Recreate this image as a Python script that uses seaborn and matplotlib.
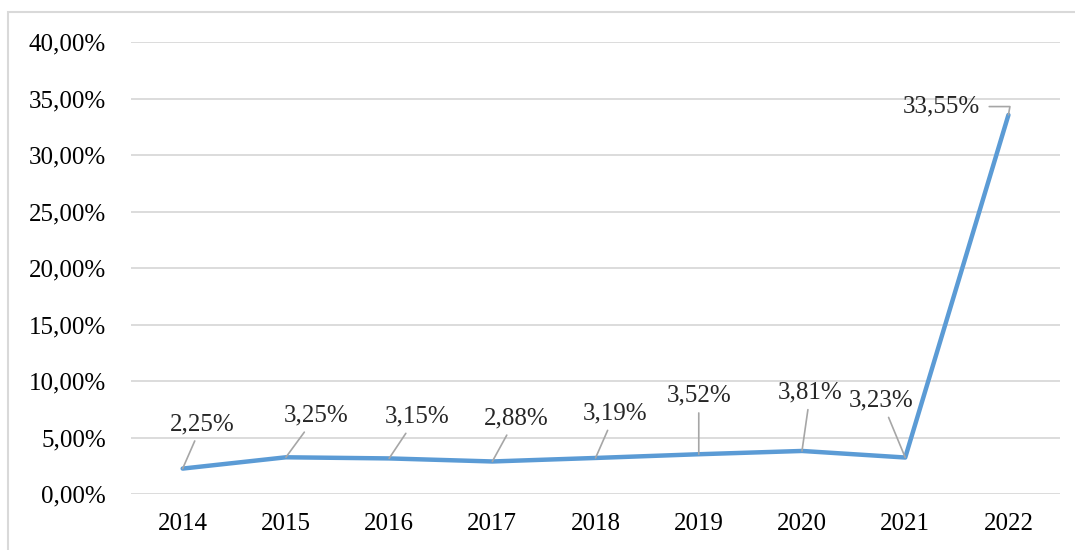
import matplotlib
matplotlib.use("Agg")
import matplotlib.pyplot as plt
import matplotlib.patches as mpatches
import seaborn as sns
import pandas as pd

years = ["2014", "2015", "2016", "2017", "2018", "2019", "2020", "2021", "2022"]
rates = [0.0225, 0.0325, 0.0315, 0.0288, 0.0319, 0.0352, 0.0381, 0.0323, 0.3355]
y_ticks = [0.0, 0.05, 0.10, 0.15, 0.20, 0.25, 0.30, 0.35, 0.40]

# label offsets in points (text centre relative to the point)
label_offsets = [(14, 32), (22, 30), (20, 30), (17, 31), (14, 32),
                 (0, 42), (6, 42), (-17, 41), (-48, 6)]

df = pd.DataFrame({"year": years, "rate": rates})

sns.set_style("white")
plt.rcParams["font.family"] = ["Liberation Serif", "DejaVu Serif"]

fig = plt.figure(figsize=(10.75, 5.5), dpi=100)
ax = fig.add_axes([0.1219, 0.1018, 0.8642, 0.8218])

sns.lineplot(data=df, x="year", y="rate", ax=ax, color="#5B9BD5",
             linewidth=3.2, sort=False)

ax.set_xlim(-0.5, len(years) - 0.5)
ax.set_ylim(0, 0.40)
ax.set_yticks(y_ticks)
ax.set_yticklabels([f"{v * 100:.2f}%".replace(".", ",") for v in y_ticks])
ax.grid(axis="y", color="#D9D9D9", linewidth=1.3)
ax.set_axisbelow(True)
for s in ax.spines.values():
    s.set_visible(False)
ax.tick_params(axis="both", length=0, labelsize=18, colors="black")
ax.tick_params(axis="y", pad=18)
ax.tick_params(axis="x", pad=14)
ax.set_xlabel("")
ax.set_ylabel("")

for i, (v, off) in enumerate(zip(rates, label_offsets)):
    txt = f"{v * 100:.2f}%".replace(".", ",")
    if i == len(rates) - 1:
        ax.annotate(txt, (i, v), xytext=off, textcoords="offset points",
                    ha="center", va="center", fontsize=18,
                    arrowprops=dict(arrowstyle="-", color="#A6A6A6", lw=1.2,
                                    relpos=(1, 0.5), shrinkA=4, shrinkB=0,
                                    connectionstyle="angle,angleA=0,angleB=80,rad=0"))
    else:
        ax.annotate(txt, (i, v), xytext=off, textcoords="offset points",
                    ha="center", va="center", fontsize=18,
                    arrowprops=dict(arrowstyle="-", color="#A6A6A6", lw=1.2,
                                    shrinkA=2, shrinkB=0))

# outer chart border
fig.patches.append(mpatches.Rectangle((0.0074, -0.01), 1.0, 0.988,
                                      transform=fig.transFigure, fill=False,
                                      edgecolor="#D9D9D9", linewidth=1.5))

fig.savefig("out.png", dpi=100)
